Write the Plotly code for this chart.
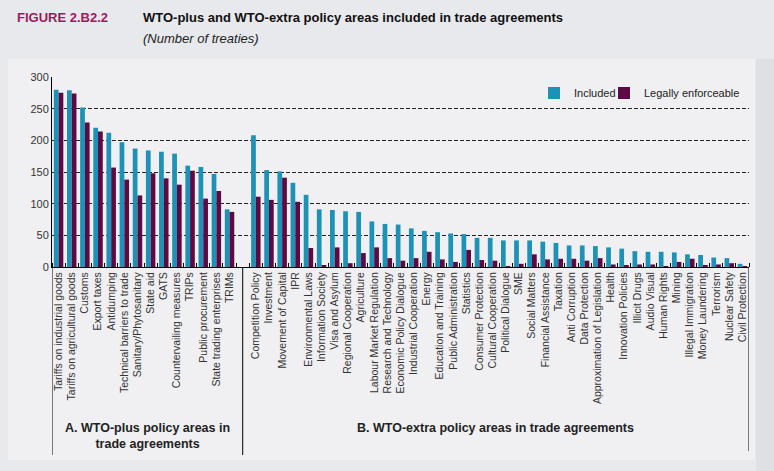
import plotly.graph_objects as go

plus_cats = ["Tariffs on industrial goods", "Tariffs on agricultural goods", "Customs", "Export taxes",
             "Antidumping", "Technical barriers to trade", "Sanitary/Phytosanitary", "State aid", "GATS",
             "Countervailing measures", "TRIPs", "Public procurement", "State trading enterprises", "TRIMs"]
plus_included = [280, 279, 252, 220, 212, 197, 187, 184, 182, 179, 160, 158, 147, 91]
plus_legal = [275, 274, 228, 214, 157, 138, 113, 148, 140, 130, 152, 108, 120, 87]

extra_cats = ["Competition Policy", "Investment", "Movement of Capital", "IPR", "Environmental Laws",
              "Information Society", "Visa and Asylum", "Regional Cooperation", "Agriculture",
              "Labour Market Regulation", "Research and Technology", "Economic Policy Dialogue",
              "Industrial Cooperation", "Energy", "Education and Training", "Public Administration",
              "Statistics", "Consumer Protection", "Cultural Cooperation", "Political Dialogue", "SME",
              "Social Matters", "Financial Assistance", "Taxation", "Anti Corruption", "Data Protection",
              "Approximation of Legislation", "Health", "Innovation Policies", "Illicit Drugs", "Audio Visual",
              "Human Rights", "Mining", "Illegal Immigration", "Money Laundering", "Terrorism",
              "Nuclear Safety", "Civil Protection"]
extra_included = [208, 153, 151, 133, 114, 91, 90, 88, 87, 72, 68, 67, 61, 57, 55, 53, 52, 46, 46, 42,
                  42, 42, 40, 38, 34, 34, 33, 31, 29, 25, 24, 24, 23, 20, 19, 15, 14, 5]
extra_legal = [111, 106, 141, 103, 30, 3, 31, 6, 22, 31, 14, 10, 14, 24, 12, 8, 27, 11, 10, 1,
               5, 20, 12, 13, 13, 10, 14, 4, 2, 4, 4, 1, 8, 13, 2, 4, 6, 1]

C_INC = "#1c92b6"
C_LEG = "#5e0a42"
FONT = "Arial, Liberation Sans, sans-serif"

# positions: panel A at 0..13, empty slot at 14, panel B at 15..52
pos_plus = list(range(len(plus_cats)))
pos_extra = [len(plus_cats) + 1 + i for i in range(len(extra_cats))]
positions = pos_plus + pos_extra
labels = plus_cats + extra_cats
included = plus_included + extra_included
legal = plus_legal + extra_legal
sep = len(plus_cats)
xmax = positions[-1] + 0.5

fig = go.Figure()
fig.add_trace(go.Bar(x=positions, y=included, name="Included", marker_color=C_INC,
                     marker_line_width=0, legend="legend"))
fig.add_trace(go.Bar(x=positions, y=legal, name="Legally enforceable", marker_color=C_LEG,
                     marker_line_width=0, legend="legend2"))

W, H = 774, 471
L, R, T, B = 52, 25, 77, 204
pw, ph = W - L - R, H - T - B

def px(xp):
    return (xp - L) / pw

def py(yp):
    return (H - B - yp) / ph

shapes = [
    dict(type="rect", xref="paper", yref="paper", x0=px(8), x1=px(755), y0=py(460), y1=py(59),
         fillcolor="#f0f0f2", line_width=0, layer="below"),
    dict(type="rect", xref="paper", yref="paper", x0=px(756), x1=px(780), y0=py(480), y1=py(59),
         fillcolor="#dfe0e3", line_width=0, layer="below"),
]
for xv, ybot in [(-0.5, 455), (sep, 455), (xmax, 451)]:
    shapes.append(dict(type="line", xref="x", yref="paper", x0=xv, x1=xv, y0=0, y1=py(ybot),
                       line=dict(color="black", width=1)))

annotations = [
    dict(text="<b>FIGURE 2.B2.2</b>", xref="paper", yref="paper", x=px(15), y=py(18), xanchor="left",
         yanchor="middle", showarrow=False, font=dict(family=FONT, size=13, color="#9c1a5c")),
    dict(text="<b>WTO-plus and WTO-extra policy areas included in trade agreements</b>", xref="paper",
         yref="paper", x=px(141), y=py(18), xanchor="left", yanchor="middle", showarrow=False,
         font=dict(family=FONT, size=13, color="#111")),
    dict(text="<i>(Number of treaties)</i>", xref="paper", yref="paper", x=px(141), y=py(38),
         xanchor="left", yanchor="middle", showarrow=False, font=dict(family=FONT, size=13, color="#222")),
    dict(text="<b>A. WTO-plus policy areas in<br>trade agreements</b>", xref="x", yref="paper",
         x=(-0.5 + sep) / 2, y=py(436), xanchor="center", yanchor="middle", showarrow=False,
         font=dict(family=FONT, size=12.5, color="#222")),
    dict(text="<b>B. WTO-extra policy areas in trade agreements</b>", xref="x", yref="paper",
         x=(sep + xmax) / 2, y=py(428), xanchor="center", yanchor="middle", showarrow=False,
         font=dict(family=FONT, size=12.5, color="#222")),
]

leg_common = dict(orientation="h", xanchor="left", yanchor="middle", bgcolor="rgba(0,0,0,0)",
                  font=dict(family=FONT, size=11, color="#222"), itemwidth=30)

fig.update_layout(
    width=W, height=H,
    margin=dict(l=L, r=R, t=T, b=B),
    paper_bgcolor="#e8e9ec",
    plot_bgcolor="#f0f0f2",
    barmode="group",
    bargap=0.28,
    bargroupgap=0,
    font=dict(family=FONT, size=11, color="#333"),
    shapes=shapes,
    annotations=annotations,
    showlegend=True,
    legend=dict(x=px(534), y=py(93), **leg_common),
    legend2=dict(x=px(604), y=py(93), **leg_common),
    xaxis=dict(
        range=[-0.5, xmax], tickmode="array", tickvals=positions, ticktext=labels,
        tickangle=-90, tickfont=dict(family=FONT, size=10.5, color="#333"),
        showgrid=False, zeroline=False, showline=True, linecolor="black", linewidth=1,
        ticks="", fixedrange=True,
        minor=dict(ticks="inside", ticklen=4, tickcolor="black", tick0=0.5, dtick=1, showgrid=False),
    ),
    yaxis=dict(
        range=[0, 300], tickvals=[0, 50, 100, 150, 200, 250, 300],
        showgrid=True, gridcolor="#222", gridwidth=1, griddash="4px,2px",
        zeroline=False, showline=True, linecolor="black", linewidth=1, ticks="",
        tickfont=dict(family=FONT, size=11, color="#333"),
    ),
)

fig.write_html("out.html", config={"displayModeBar": False},
               post_script="document.body.style.margin='0';")
